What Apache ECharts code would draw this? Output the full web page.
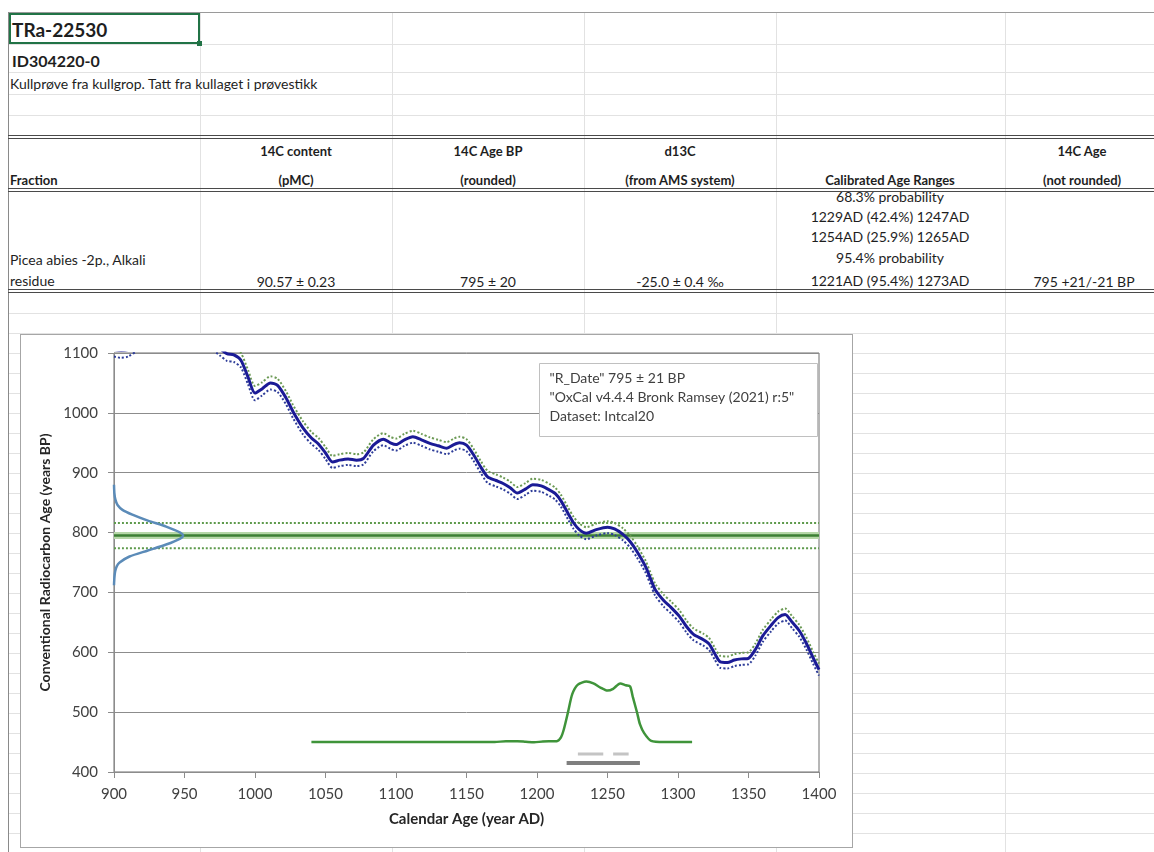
<!DOCTYPE html>
<html>
<head>
<meta charset="utf-8">
<title>TRa-22530</title>
<script src="https://cdn.jsdelivr.net/npm/echarts@6/dist/echarts.min.js"></script>
<style>
  html, body { margin: 0; padding: 0; background: #fff; }
  #sheet { position: relative; width: 1154px; height: 852px; overflow: hidden; font-family: Lato, "Open Sans", sans-serif; color: #1e1e1e; }
  .h { position: absolute; left: 8px; right: 0; height: 1px; background: #e2e2e2; }
  .v { position: absolute; top: 12px; bottom: 0; width: 1px; background: #e2e2e2; }
  .dbl { position: absolute; left: 8px; right: 0; height: 2px; border-top: 1px solid #4a4a4a; border-bottom: 1px solid #4a4a4a; }
  .t { position: absolute; white-space: nowrap; font-size: 14px; line-height: 16px; transform: translateY(-50%); }
  .c { transform: translate(-50%, -50%); }
  .b { font-weight: bold; font-size: 13px; }
  #chart { position: absolute; left: 21px; top: 335px; width: 831px; height: 512px; background: #fff; outline: 1px solid #a6a6a6; }
</style>
</head>
<body>
<div id="sheet">
  <div id="lines"></div>
  <div style="position:absolute;left:8px;top:12px;right:0;height:1px;background:#9a9a9a"></div>
  <div style="position:absolute;left:8px;top:12px;bottom:0;width:1px;background:#8a8a8a"></div>
  <div style="position:absolute;left:9px;top:13px;width:191px;height:31px;box-sizing:border-box;border:2px solid #217346"></div>
  <div style="position:absolute;left:197px;top:41px;width:5px;height:5px;background:#217346"></div>
  <div class="dbl" style="top:135px"></div>
  <div class="dbl" style="top:188px"></div>
  <div class="dbl" style="top:289px"></div>

  <div class="t b" style="left:12px;top:30px;font-size:19px">TRa-22530</div>
  <div class="t b" style="left:12px;top:61px;font-size:16px">ID304220-0</div>
  <div class="t" style="left:10px;top:84px">Kullprøve fra kullgrop. Tatt fra kullaget i prøvestikk</div>

  <div class="t b" style="left:10px;top:180px">Fraction</div>
  <div class="t b c" style="left:296px;top:151px">14C content</div>
  <div class="t b c" style="left:296px;top:180px">(pMC)</div>
  <div class="t b c" style="left:488px;top:151px">14C Age BP</div>
  <div class="t b c" style="left:488px;top:180px">(rounded)</div>
  <div class="t b c" style="left:680px;top:151px">d13C</div>
  <div class="t b c" style="left:680px;top:180px">(from AMS system)</div>
  <div class="t b c" style="left:890px;top:180px">Calibrated Age Ranges</div>
  <div class="t b c" style="left:1082px;top:151px">14C Age</div>
  <div class="t b c" style="left:1082px;top:180px">(not rounded)</div>

  <div class="t" style="left:10px;top:260px">Picea abies -2p., Alkali</div>
  <div class="t" style="left:10px;top:281px">residue</div>
  <div class="t c" style="left:296px;top:282px">90.57 ± 0.23</div>
  <div class="t c" style="left:488px;top:282px">795 ± 20</div>
  <div class="t c" style="left:680px;top:282px">-25.0 ± 0.4 ‰</div>
  <div class="t c" style="left:890px;top:197px">68.3% probability</div>
  <div class="t c" style="left:890px;top:217px">1229AD (42.4%) 1247AD</div>
  <div class="t c" style="left:890px;top:237px">1254AD (25.9%) 1265AD</div>
  <div class="t c" style="left:890px;top:258px">95.4% probability</div>
  <div class="t c" style="left:890px;top:281px">1221AD (95.4%) 1273AD</div>
  <div class="t c" style="left:1084px;top:282px">795 +21/-21 BP</div>

  <div id="chart"></div>
</div>

<script>
  // calibration curve (IntCal20)
  var calYear = [900,905,910,918,930, 950,965,975,980,985, 990,995,1000,1005,1011,
    1016,1022,1027,1034,1040, 1045,1050,1055,1060,1066, 1072,1077,1084,1091,1096,
    1100,1106,1112,1118,1124, 1130,1136,1141,1145,1150, 1155,1160,1165,1171,1176,
    1181,1186,1192,1197,1203, 1209,1213,1217,1222,1226, 1230,1235,1242,1250,1255,
    1261,1266,1271,1277,1281, 1284,1290,1295,1301,1306, 1311,1318,1322,1326,1330,
    1335,1340,1345,1350,1355, 1360,1366,1371,1376,1381, 1386,1391,1396,1400]
  var calBP = [1106,1104,1106,1118,1135, 1140,1125,1108,1099,1097, 1088,1060,1033,1040,1050,
    1046,1025,1002,975,958, 948,933,918,921,923, 921,924,946,956,950,
    947,955,960,955,949, 945,941,947,950,946, 930,910,893,887,882,
    875,866,873,880,878, 871,865,853,832,816, 805,799,805,809,806,
    797,785,768,743,720, 704,686,675,660,643, 630,621,614,598,584,
    583,587,589,590,605, 627,645,658,663,650, 636,615,590,571]
  var calSigma = [12,12,12,12,12, 12,12,12,12,12, 12,12,12,11,11,
    11,11,11,11,10, 10,10,10,10,10, 10,10,10,10,10,
    10,10,10,10,10, 10,10,10,10,10, 10,10,10,10,10,
    10,10,10,10,10, 10,10,10,10,10, 10,10,10,10,10,
    10,10,10,10,10, 10,10,10,10,10, 10,10,10,10,10,
    10,10,10,10,10, 10,10,10,10,10, 10,10,10,10]

  // measured date
  var sampleAge = 795
  var sampleErr = 21

  // measurement density drawn against the y axis
  var probBP   = [880,865,855,846,838,830,820,810,800,795,790,780,770,760,750,744,735,725,712]
  var probYear = [900,900.3,901,902.5,906,913,924,937,947,949,947,937,924,911,904,902,900.8,900.3,900]

  // calibrated distribution
  var distYear = [1040,1100,1170,1178,1186,1192,1198,1204,1214,1217,1219,1222,1225,1229,1235,1240,1245,1250,1254,1259,1263,1266,1268,1271,1273,1276,1281,1290,1310]
  var distBP   = [450,450,450,451.5,451.5,450.5,449.5,451,451.5,458,471,500,530,546,551,548,541,536,539,548,545,543,525,499,480,465,452,450,450]

  // calibrated ranges
  var range68 = [[1229, 1247], [1254, 1265]]
  var range95 = [[1221, 1273]]

  var xTicks = [900, 950, 1000, 1050, 1100, 1150, 1200, 1250, 1300, 1350, 1400]
  var yTicks = [400, 500, 600, 700, 800, 900, 1000, 1100]

  // spreadsheet grid lines
  var lines = document.getElementById('lines')
  var rows = [44, 72, 94, 115]
  for (var y = 313; y < 852; y += 20) rows.push(y)
  rows.forEach(function (y) {
    var d = document.createElement('div'); d.className = 'h'; d.style.top = y + 'px'; lines.appendChild(d)
  })
  ;[200, 392, 584, 776, 1005].forEach(function (x) {
    var d = document.createElement('div'); d.className = 'v'; d.style.left = x + 'px'; lines.appendChild(d)
  })

  function pairs(xs, ys) {
    return xs.map(function (x, i) { return [x, ys[i]] })
  }
  function flat(v) {
    return [[xTicks[0], v], [xTicks[xTicks.length - 1], v]]
  }
  function line(data, color, width, type, z) {
    return {
      type: 'line', data: data, symbol: 'none', silent: true, z: z || 2,
      lineStyle: { color: color, width: width, type: type || 'solid' }
    }
  }

  var font = 'Lato'
  var series = [
    line(flat(sampleAge), '#b6d7a8', 7, 'solid', 2),
    line(flat(sampleAge), '#3c7f34', 2.5, 'solid', 3),
    line(flat(sampleAge + sampleErr), '#5e9a4c', 2, [2, 2], 3),
    line(flat(sampleAge - sampleErr), '#5e9a4c', 2, [2, 2], 3),
    line(calYear.map(function (x, i) { return [x, calBP[i] + calSigma[i]] }), '#6c9a55', 2, [2, 2], 4),
    line(calYear.map(function (x, i) { return [x, calBP[i] - calSigma[i]] }), '#2e3d99', 2, [2, 2], 4),
    line(pairs(calYear, calBP), '#1b1b96', 3, 'solid', 5),
    line(pairs(probYear, probBP), '#5b8bb8', 2.5, 'solid', 5),
    line(pairs(distYear, distBP), '#3f943a', 2.5, 'solid', 5)
  ]
  range68.forEach(function (r) { series.push(line([[r[0], 430], [r[1], 430]], '#c4c4c4', 3, 'solid', 5)) })
  range95.forEach(function (r) { series.push(line([[r[0], 415], [r[1], 415]], '#7f7f7f', 4, 'solid', 5)) })
  series.forEach(function (s) { s.smooth = 0.25 })

  function plain(v) { return String(v) }

  var chart = echarts.init(document.getElementById('chart'))
  chart.setOption({
    animation: false,
    textStyle: { fontFamily: font },
    grid: { left: 93, right: 33, top: 18, bottom: 75, show: true, borderColor: '#6e6e6e', borderWidth: 1 },
    xAxis: {
      type: 'value', min: xTicks[0], max: xTicks[xTicks.length - 1], interval: 50,
      axisLine: { show: true, onZero: false, lineStyle: { color: '#8c8c8c' } },
      axisTick: { show: true, length: 6, lineStyle: { color: '#8c8c8c' } },
      axisLabel: { fontSize: 15, color: '#404040', margin: 15, fontFamily: font, formatter: plain },
      splitLine: { show: false },
      name: 'Calendar Age (year AD)', nameLocation: 'middle', nameGap: 40,
      nameTextStyle: { fontWeight: 'bold', fontSize: 15, color: '#262626', fontFamily: font }
    },
    yAxis: {
      type: 'value', min: yTicks[0], max: yTicks[yTicks.length - 1], interval: 100,
      axisLine: { show: true, lineStyle: { color: '#8c8c8c' } },
      axisTick: { show: true, length: 6, lineStyle: { color: '#8c8c8c' } },
      axisLabel: { fontSize: 15, color: '#404040', margin: 16, fontFamily: font, formatter: plain },
      splitLine: { show: true, lineStyle: { color: '#8c8c8c', width: 1 } },
      name: 'Conventional Radiocarbon Age (years BP)', nameLocation: 'middle', nameGap: 55,
      nameTextStyle: { fontWeight: 'bold', fontSize: 14, color: '#262626', fontFamily: font }
    },
    graphic: [{
      type: 'group', left: 518, top: 28, z: 100, zlevel: 1,
      children: [
        { type: 'rect', z: 100, shape: { x: 0, y: 0, width: 278, height: 73 }, style: { fill: '#fff', stroke: '#c0c0c0', lineWidth: 1 } },
        { type: 'text', z: 101, x: 10, y: 5, style: {
            text: '"R_Date" 795 ± 21 BP\n"OxCal v4.4.4 Bronk Ramsey (2021) r:5"\nDataset: Intcal20',
            font: '14px Lato', fill: '#404040', lineHeight: 19 } }
      ]
    }],
    series: series
  })
</script>
</body>
</html>
